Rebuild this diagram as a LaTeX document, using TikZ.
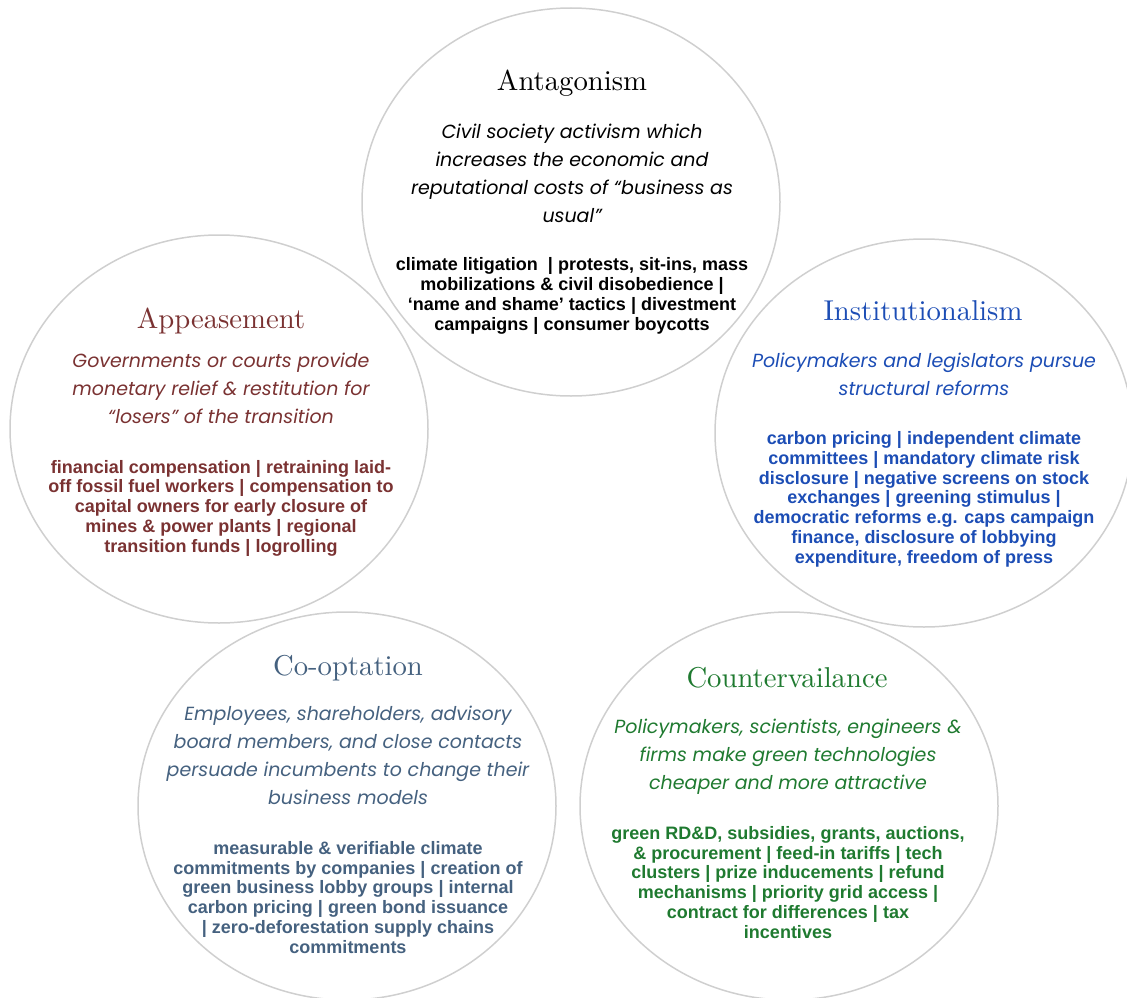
\documentclass[tikz,border=0pt]{standalone}
\usepackage{fontspec}
\usepackage{tikz}
\usetikzlibrary{shapes.geometric}
\usetikzlibrary{positioning}
\newfontfamily\headfont{lmroman10-regular.otf}
\newfontfamily\descfont{Poppins}
\newfontfamily\listfont{Liberation Sans}
\definecolor{ringgrey}{HTML}{CFCFCF}
\definecolor{appred}{HTML}{7A3232}
\definecolor{instblue}{HTML}{1C4DB5}
\definecolor{coopslate}{HTML}{45617F}
\definecolor{countgreen}{HTML}{1F7A30}
\tikzstyle{bubble} = [ellipse, draw=ringgrey, line width=1.5pt, minimum width=418pt, minimum height=388pt, inner sep=0pt]
\tikzstyle{heading} = [font=\headfont\fontsize{28.7}{30}\selectfont, inner sep=0pt, anchor=base]
% multi-line nodes: base sits on the last line
\tikzstyle{desc} = [font=\descfont\itshape\fontsize{19}{28}\selectfont, align=center, inner sep=0pt, anchor=base]
\tikzstyle{items} = [font=\listfont\bfseries\fontsize{18}{19.7}\selectfont, align=center, inner sep=0pt, anchor=base]

\begin{document}
\begin{tikzpicture}[x=1pt, y=-1pt]
    \useasboundingbox (0,0) rectangle (1127,998);

    \node (antag) [bubble] at (571,202) {};
    \node (appease) [bubble] at (219,429) {};
    \node (inst) [bubble] at (924,433) {};
    \node (coopt) [bubble] at (347,806) {};
    \node (counter) [bubble] at (789,806) {};

    % Antagonism
    \node (antagtitle) [heading] at (572,91) {Antagonism};
    \node (antagdesc) [desc] at (572,222) {Civil society activism which\\
        increases the economic and\\ reputational costs of “business as\\ usual”};
    \node (antagitems) [items] at (572,330) {climate litigation \ | protests, sit-ins, mass\\
        mobilizations \& civil disobedience |\\ ‘name and shame’ tactics | divestment\\
        campaigns | consumer boycotts};

    % Appeasement
    \node (appeasetitle) [heading, text=appred] at (221,328) {Appeasement};
    \node (appeasedesc) [desc, text=appred] at (221,423) {Governments or courts provide\\
        monetary relief \& restitution for\\ “losers” of the transition};
    \node (appeaseitems) [items, text=appred] at (221,552) {financial compensation | retraining laid-\\
        off fossil fuel workers | compensation to\\ capital owners for early closure of\\
        mines \& power plants | regional\\ transition funds | logrolling};

    % Institutionalism
    \node (insttitle) [heading, text=instblue] at (923,320) {Institutionalism};
    \node (instdesc) [desc, text=instblue] at (924,395) {Policymakers and legislators pursue\\
        structural reforms};
    \node (institems) [items, text=instblue] at (924,563) {carbon pricing | independent climate\\
        committees | mandatory climate risk\\ disclosure | negative screens on stock\\
        exchanges | greening stimulus |\\ democratic reforms e.g. caps campaign\\
        finance, disclosure of lobbying\\ expenditure, freedom of press};

    % Co-optation
    \node (cooptitle) [heading, text=coopslate] at (348,675) {Co-optation};
    \node (coopdesc) [desc, text=coopslate] at (348,804) {Employees, shareholders, advisory\\
        board members, and close contacts\\ persuade incumbents to change their\\ business models};
    \node (coopitems) [items, text=coopslate] at (348,953) {measurable \& verifiable climate\\
        commitments by companies | creation of\\ green business lobby groups | internal\\
        carbon pricing | green bond issuance\\ | zero-deforestation supply chains\\ commitments};

    % Countervailance
    \node (countertitle) [heading, text=countgreen] at (787,687) {Countervailance};
    \node (counterdesc) [desc, text=countgreen] at (788,789) {Policymakers, scientists, engineers \&\\
        firms make green technologies\\ cheaper and more attractive};
    \node (counteritems) [items, text=countgreen] at (788,938) {green RD\&D, subsidies, grants, auctions,\\
        \& procurement | feed-in tariffs | tech\\ clusters | prize inducements | refund\\
        mechanisms | priority grid access |\\ contract for differences | tax\\ incentives};
\end{tikzpicture}
\end{document}
